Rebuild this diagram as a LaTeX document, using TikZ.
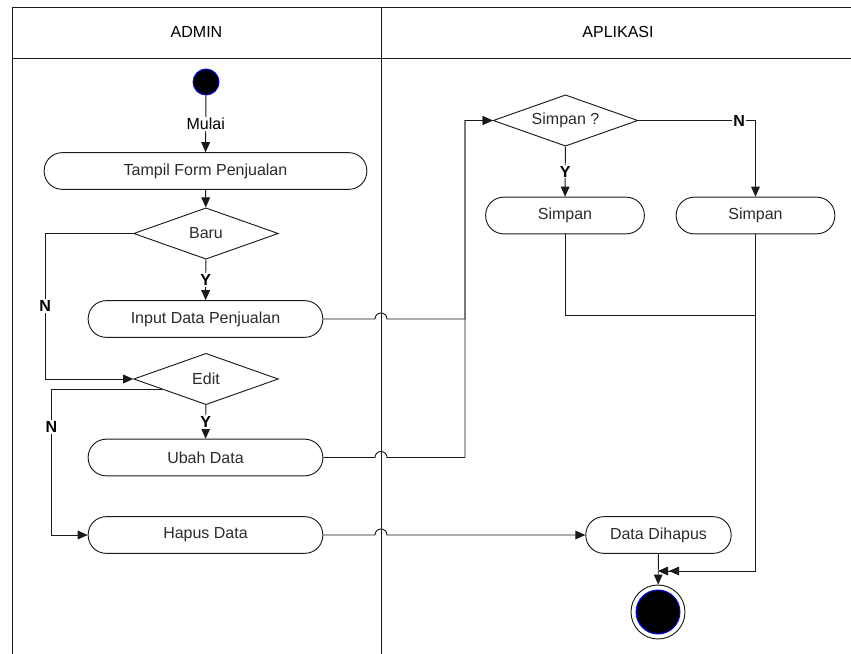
\documentclass[tikz,border=0pt]{standalone}
\usepackage{fontspec}
\setmainfont{Liberation Sans}
\usetikzlibrary{arrows.meta,calc,positioning,shapes.geometric}
\definecolor{garis}{HTML}{1A1A1A}
\definecolor{teks}{HTML}{2B2B2B}

\tikzset{
  aksi/.style={draw=garis,rounded corners=13.5pt,minimum height=27.5pt,inner sep=2pt,text=teks},
  keputusan/.style={draw=garis,diamond,shape aspect=3,inner sep=0pt,minimum width=108.5pt,minimum height=38.5pt,text=teks},
  panah/.style={draw=garis,-{Triangle[length=7.5pt,width=6.5pt]}},
  lbl/.style={fill=white,inner sep=1pt,text=black},
  yn/.style={lbl,font=\fontsize{12}{14}\selectfont\bfseries}
}

\begin{document}
\begin{tikzpicture}[x=0.75pt,y=-0.75pt,line width=0.7pt,font=\fontsize{12}{14}\selectfont]
  \useasboundingbox (0,0) rectangle (851,654);

  % swimlane
  \coordinate (div) at (381,7);
  \draw[garis,line width=0.6pt] (12,654) -- (12,7) -- (851,7);
  \draw[garis,line width=0.6pt] (12,58) -- (851,58);
  \draw[garis,line width=0.6pt] (div) -- (381,654);
  \node (admin) at (196.5,32) {ADMIN};
  \node (aplikasi) at (618,32) {APLIKASI};

  % admin
  \node[circle,fill=black,draw=blue,minimum size=19.5pt,inner sep=0pt] (mulai) at (206,82) {};
  \node[aksi,minimum width=242pt] (tampil) at (205.5,171) {Tampil Form Penjualan};
  \node[keputusan] (baru) at (206,233.5) {Baru};
  \node[aksi,minimum width=176pt] (input) at (205.5,319) {Input Data Penjualan};
  \node[keputusan] (edit) at (206,379) {Edit};
  \node[aksi,minimum width=176pt] (ubah) at (205.5,457.5) {Ubah Data};
  \node[aksi,minimum width=176pt] (hapus) at (205.5,535) {Hapus Data};

  % aplikasi
  \coordinate (bus) at (465,121);
  \node[keputusan] (simpanq) at (565.5,120.5) {Simpan ?};
  \node[aksi,minimum width=119pt] (simpan1) at (565,215.5) {Simpan};
  \node[aksi,minimum width=119pt] (simpan2) at (755.5,215.5) {Simpan};
  \node[aksi,minimum width=109pt] (dihapus) at (658.5,535) {Data Dihapus};
  \node[circle,draw=garis,minimum size=40.5pt,inner sep=0pt] (selesai) at (658,612) {};
  \node[circle,fill=black,draw=blue,minimum size=33pt,inner sep=0pt] (selesaiin) at (selesai) {};
  \coordinate (masuk) at (658,571);

  % alur admin
  \draw[panah] (mulai) -- node[lbl]{Mulai} (tampil);
  \draw[panah] (tampil) -- (baru);
  \draw[panah] (baru) -- node[yn]{Y} (input);
  \draw[panah] (baru.west) -- ++(-88,0) |- node[yn,pos=0.25]{N} (edit.west);
  \draw[panah] (edit) -- node[yn]{Y} (ubah);
  \draw[panah] ($(edit.west)!0.4!(edit.south)$) -- ++(-111,0) |- node[yn,pos=0.13]{N} (hapus.west);

  % ke aplikasi
  \draw[panah] (input.east) -- ([xshift=-4.5pt]input.east -| div) arc[start angle=180,end angle=0,radius=4.5pt]
    -- (input.east -| bus) |- (simpanq.west);
  \draw[panah] (ubah.east) -- ([xshift=-4.5pt]ubah.east -| div) arc[start angle=180,end angle=0,radius=4.5pt]
    -- (ubah.east -| bus) |- (simpanq.west);
  \draw[panah] (hapus.east) -- ([xshift=-4.5pt]hapus.east -| div) arc[start angle=180,end angle=0,radius=4.5pt]
    -- (dihapus.west);

  % alur aplikasi
  \draw[panah] (simpanq) -- node[yn]{Y} (simpan1);
  \draw[panah] (simpanq.east) -| node[yn,pos=0.43]{N} (simpan2.north);
  \draw[panah] (simpan1.south) -- ++(0,81) -| (simpan2.south |- masuk) -- ([xshift=8.25pt]masuk);
  \draw[panah] (simpan2.south) |- (masuk);
  \draw[panah] (dihapus) -- (selesai);
\end{tikzpicture}
\end{document}
